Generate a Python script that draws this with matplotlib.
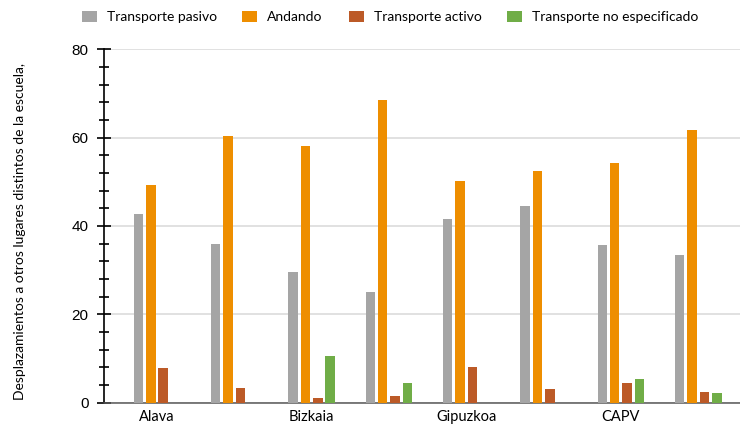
import numpy as np
import matplotlib.pyplot as plt
from matplotlib.patches import Patch
from matplotlib.ticker import MultipleLocator

# two groups per region, labels only under the first of each pair
regions = ["Alava", "Bizkaia", "Gipuzkoa", "CAPV"]
series = ["Transporte pasivo", "Andando", "Transporte activo", "Transporte no especificado"]
colors = ["#A5A5A5", "#EE8E00", "#BC5A27", "#70AD47"]

pasivo = [42.6, 35.8, 29.6, 25.0, 41.5, 44.4, 35.6, 33.3]
andando = [49.3, 60.4, 58.1, 68.5, 50.2, 52.5, 54.2, 61.7]
activo = [7.8, 3.2, 1.0, 1.6, 8.0, 3.0, 4.4, 2.4]
no_espec = [0, 0, 10.5, 4.4, 0, 0, 5.3, 2.1]

values = [pasivo, andando, activo, no_espec]

fig = plt.figure(figsize=(7.4, 4.24), dpi=100)
ax = fig.add_axes([0.1405, 0.0505, 0.8595, 0.8335])

x = np.arange(len(pasivo))
pitch = 0.160
width = 0.123
for k, (vals, c) in enumerate(zip(values, colors)):
    ax.bar(x + (k - 1.5) * pitch, vals, width=width, color=c, zorder=3)

ax.set_xlim(-0.685, 7.54)
ax.set_ylim(0, 80)

ax.yaxis.set_major_locator(MultipleLocator(20))
ax.yaxis.set_minor_locator(MultipleLocator(4))
ax.tick_params(axis="y", which="major", direction="inout", length=10, width=1.2,
               labelsize=11, pad=6, color="black")
ax.tick_params(axis="y", which="minor", direction="inout", length=6.5, width=1.2,
               color="black")
for lab in ax.get_yticklabels():
    lab.set_family("Liberation Sans")

ax.set_xticks([0, 2, 4, 6])
ax.set_xticklabels(regions, family="Lato", fontsize=10.5)
ax.tick_params(axis="x", length=0, pad=5)

ax.grid(axis="y", color="#D9D9D9", linewidth=1.1, zorder=0)
ax.set_axisbelow(True)

for s in ["top", "right"]:
    ax.spines[s].set_visible(False)
ax.spines["left"].set_color("black")
ax.spines["left"].set_linewidth(1.2)
ax.spines["bottom"].set_color("#595959")
ax.spines["bottom"].set_linewidth(1.1)

fig.text(0.027, 0.453, "Desplazamientos a otros lugares distintos de la escuela,",
         rotation=90, ha="center", va="center", family="Lato", fontsize=10)

handles = [Patch(facecolor=c, label=s) for s, c in zip(series, colors)]
fig.legend(handles=handles, loc="center", bbox_to_anchor=(0.527, 0.96), ncol=4,
           frameon=False, prop={"family": "Lato", "size": 10},
           handlelength=1.08, handleheight=0.94, handletextpad=0.72, columnspacing=1.85)

fig.savefig("out.png", dpi=100)
